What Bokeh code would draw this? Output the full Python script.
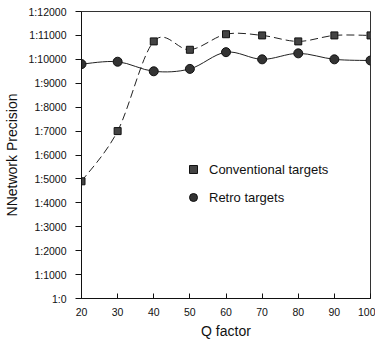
from bokeh.plotting import figure
from bokeh.models import FixedTicker, Legend, LegendItem
from bokeh.embed import file_html
from bokeh.resources import INLINE

q_factor = [20, 30, 40, 50, 60, 70, 80, 90, 100]
conventional = [4900, 7000, 10750, 10400, 11050, 11000, 10750, 11000, 11000]
retro = [9800, 9900, 9500, 9600, 10300, 10000, 10250, 10000, 9950]
y_ticks = list(range(0, 13000, 1000))
y_tick_labels = {t: "1:%d" % t for t in y_ticks}
x_ticks = q_factor

FONT = "Liberation Sans"

p = figure(width=375, height=341, output_backend="svg", toolbar_location=None,
           x_range=(20, 100), y_range=(0, 12000),
           min_border_left=81, min_border_right=5, min_border_top=11, min_border_bottom=40)
p.grid.visible = False
p.outline_line_color = "#333333"
p.outline_line_width = 1
p.background_fill_color = "white"
p.border_fill_color = "white"

p.yaxis.ticker = FixedTicker(ticks=y_ticks)
p.yaxis.major_label_overrides = y_tick_labels
p.xaxis.ticker = FixedTicker(ticks=x_ticks)
for ax in (p.xaxis, p.yaxis):
    ax.minor_tick_line_color = None
    ax.major_label_text_font = FONT
    ax.major_label_text_font_size = "10.5px"
    ax.major_label_text_color = "#111111"
    ax.axis_line_color = "#111111"
    ax.major_tick_line_color = "#111111"
    ax.axis_label_text_font = FONT
    ax.axis_label_text_font_style = "normal"
    ax.axis_label_text_color = "#111111"
    ax.axis_label_text_font_size = "14px"
p.yaxis.major_tick_out = 6
p.yaxis.major_tick_in = 0
p.yaxis.major_label_standoff = 9
p.xaxis.major_tick_out = 0
p.xaxis.major_tick_in = 5
p.xaxis.major_label_standoff = 9
p.xaxis.axis_label = "Q factor"
p.xaxis.axis_label_standoff = 4
p.yaxis.axis_label = "NNetwork Precision"
p.yaxis.axis_label_standoff = 6


def catmull_rom(xs, ys):
    n = len(xs)
    x0, y0, x1, y1, cx0, cy0, cx1, cy1 = [], [], [], [], [], [], [], []
    for i in range(n - 1):
        pxm = xs[i - 1] if i > 0 else xs[i]
        pym = ys[i - 1] if i > 0 else ys[i]
        pxp = xs[i + 2] if i + 2 < n else xs[i + 1]
        pyp = ys[i + 2] if i + 2 < n else ys[i + 1]
        x0.append(xs[i]); y0.append(ys[i])
        x1.append(xs[i + 1]); y1.append(ys[i + 1])
        cx0.append(xs[i] + (xs[i + 1] - pxm) / 6.0)
        cy0.append(ys[i] + (ys[i + 1] - pym) / 6.0)
        cx1.append(xs[i + 1] - (pxp - xs[i]) / 6.0)
        cy1.append(ys[i + 1] - (pyp - ys[i]) / 6.0)
    return dict(x0=x0, y0=y0, x1=x1, y1=y1, cx0=cx0, cy0=cy0, cx1=cx1, cy1=cy1)


bc = catmull_rom(q_factor, conventional)
p.bezier(source=bc, x0="x0", y0="y0", x1="x1", y1="y1", cx0="cx0", cy0="cy0",
         cx1="cx1", cy1="cy1", line_color="#222222", line_width=1, line_dash="8 4")
br = catmull_rom(q_factor, retro)
p.bezier(source=br, x0="x0", y0="y0", x1="x1", y1="y1", cx0="cx0", cy0="cy0",
         cx1="cx1", cy1="cy1", line_color="#222222", line_width=1)

sq = p.scatter(q_factor, conventional, marker="square", size=7,
               fill_color="#444444", line_color="#111111", line_width=1)
ci = p.scatter(q_factor, retro, marker="circle", size=9,
               fill_color="#333333", line_color="#111111", line_width=1)

legend = Legend(items=[LegendItem(label="Conventional targets", renderers=[sq]),
                       LegendItem(label="Retro targets", renderers=[ci])],
                location=(102, 91), background_fill_alpha=0, border_line_color=None,
                padding=0, margin=0, spacing=8, glyph_height=20, glyph_width=20,
                label_height=20, label_standoff=6, label_text_font=FONT,
                label_text_font_size="13px", label_text_color="#111111")
p.add_layout(legend)

open("out.html", "w").write(file_html(p, INLINE))
